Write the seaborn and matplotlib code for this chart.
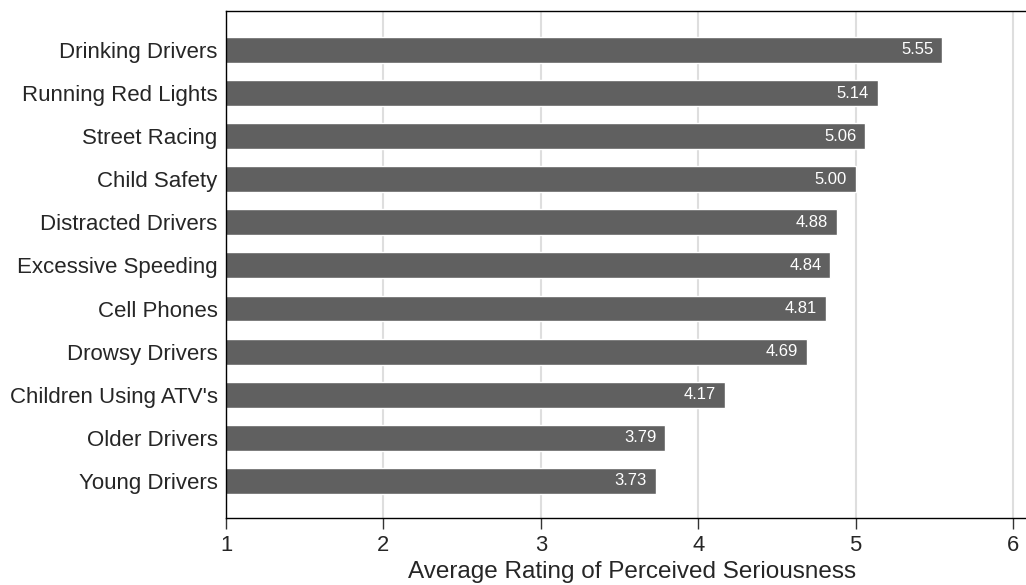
import pandas as pd
import seaborn as sns
import matplotlib.pyplot as plt

categories = ['Drinking Drivers', 'Running Red Lights', 'Street Racing', 'Child Safety',
              'Distracted Drivers', 'Excessive Speeding', 'Cell Phones', 'Drowsy Drivers',
              "Children Using ATV's", 'Older Drivers', 'Young Drivers']
ratings = [5.55, 5.14, 5.06, 5.00, 4.88, 4.84, 4.81, 4.69, 4.17, 3.79, 3.73]
x_ticks = [1, 2, 3, 4, 5, 6]

df = pd.DataFrame({'issue': categories, 'rating': ratings})

sns.set_style('white')
plt.rcParams['font.family'] = ['Liberation Sans', 'DejaVu Sans']

fig = plt.figure(figsize=(10.26, 5.85), dpi=100)
ax = fig.add_axes([0.2203, 0.1145, 0.7797, 0.8665])

sns.barplot(data=df, x='rating', y='issue', orient='h', color='#606060',
            saturation=1, width=0.6, ax=ax)

ax.set_xlim(1, 6.083)
ax.set_ylim(len(categories) - 0.14, -0.9)
ax.set_xticks(x_ticks)
ax.xaxis.grid(True, color='#dedede', linewidth=1.5)
ax.set_axisbelow(True)

# value labels inside bar ends
for i, v in enumerate(ratings):
    ax.text(v - 0.055, i, f'{v:.2f}', color='white', fontsize=12,
            ha='right', va='center', zorder=4)

for s in ['top', 'left', 'bottom']:
    ax.spines[s].set_color('black')
    ax.spines[s].set_linewidth(1)
    ax.spines[s].set_zorder(5)
ax.spines['right'].set_visible(False)

ax.tick_params(axis='x', direction='out', length=8, width=1, color='#333333',
               labelsize=15.8, bottom=True, pad=4)
ax.tick_params(axis='y', length=0, labelsize=16, pad=6)
ax.set_ylabel('')
ax.set_xlabel('')
fig.text(0.616, 0.012, 'Average Rating of Perceived Seriousness', fontsize=17.5,
         ha='center', va='baseline')

fig.savefig('out.png', dpi=100)
